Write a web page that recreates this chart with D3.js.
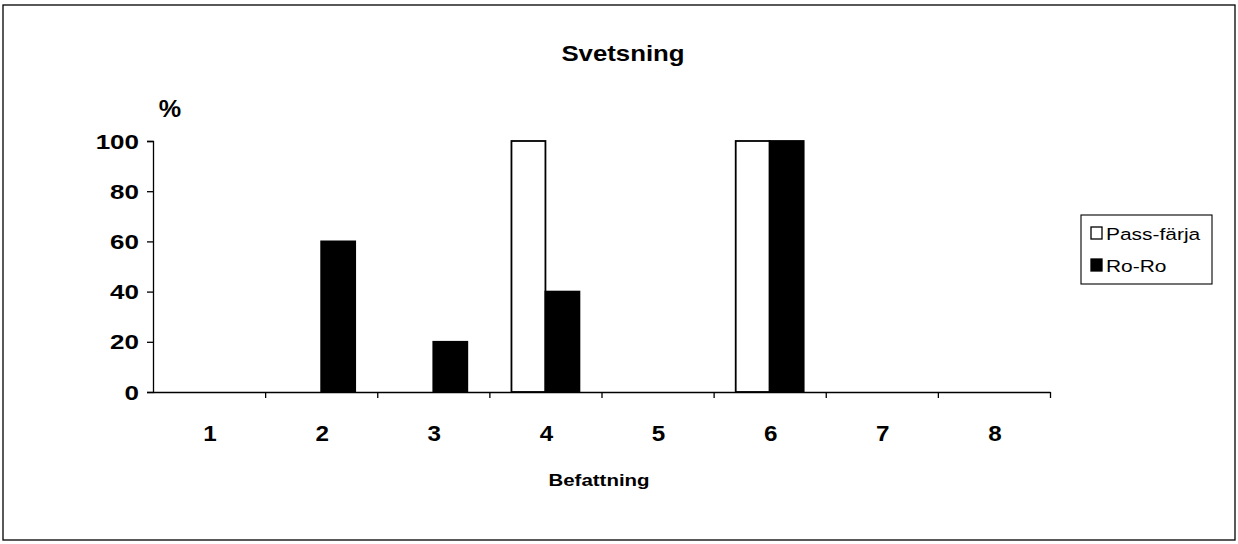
<!DOCTYPE html>
<html><head><meta charset="utf-8">
<script src="https://cdn.jsdelivr.net/npm/d3@7/dist/d3.min.js"></script>
<style>body{margin:0;background:#fff}svg{display:block}text{font-family:"Liberation Sans",Arial,sans-serif;fill:#000}</style>
</head><body>
<svg id="c" width="1238" height="544"></svg>
<script>
const categories = ["1","2","3","4","5","6","7","8"];
const seriesNames = ["Pass-färja","Ro-Ro"];
const passFarja = [0,0,0,100,0,100,0,0];
const roRo = [0,60,20,40,0,100,0,0];
const yTicks = [0,20,40,60,80,100];
const title = "Svetsning";
const xTitle = "Befattning";
const yTitle = "%";

(function(){
const svg = d3.select("#c");
const SX = 1.28; // horizontal stretch of the scanned text
function txt(g, x, y, s, opts){
  const gg = g.append("g").attr("transform", `translate(${x},${y}) scale(${opts.sx||SX},1)`);
  gg.append("text").attr("text-anchor", opts.anchor||"middle")
    .attr("dominant-baseline","alphabetic")
    .attr("font-size", opts.size).attr("font-weight", opts.weight||"bold").text(s);
  return gg;
}

svg.append("rect").attr("x",3).attr("y",5).attr("width",1232).attr("height",535)
  .attr("fill","none").attr("stroke","#000").attr("stroke-width",1.3);

const mL=153, mR=1050, mT=141, mB=392;
const x = d3.scaleBand().domain(categories).range([mL,mR]).paddingInner(0).paddingOuter(0);
const xs = d3.scaleBand().domain(seriesNames).range([0,x.bandwidth()]).paddingInner(0).paddingOuter(0.65);
const y = d3.scaleLinear().domain([0,100]).range([mB,mT]);

const data = [passFarja, roRo];
const fills = ["#fff","#000"];
data.forEach((vals,si)=>{
  svg.append("g").selectAll("rect").data(vals.map((v,i)=>({c:categories[i],v})).filter(d=>d.v>0))
    .join("rect")
    .attr("x",d=>x(d.c)+xs(seriesNames[si]))
    .attr("y",d=>y(d.v))
    .attr("width",xs.bandwidth())
    .attr("height",d=>y(0)-y(d.v))
    .attr("fill",fills[si]).attr("stroke","#000").attr("stroke-width",1.8);
});

// y axis
const ya = svg.append("g").attr("transform",`translate(${mL},0)`)
  .call(d3.axisLeft(y).tickValues(yTicks).tickSize(6).tickFormat(""));
ya.selectAll("path,line").attr("stroke","#000").attr("stroke-width",1.3);
yTicks.forEach(t=>txt(svg,139,y(t)+7.5,String(t),{size:20,anchor:"end",sx:1.3}));

// x axis with ticks at category boundaries
const xb = d3.scaleLinear().domain([0,categories.length]).range([mL,mR]);
const xa = svg.append("g").attr("transform",`translate(0,${mB})`)
  .call(d3.axisBottom(xb).tickValues(d3.range(1,categories.length+1)).tickSize(6).tickSizeOuter(0).tickFormat(""));
xa.selectAll("path,line").attr("stroke","#000").attr("stroke-width",1.3);
categories.forEach(c=>txt(svg,x(c)+x.bandwidth()/2+1,441,c,{size:22,sx:1.1}));

// titles
txt(svg,623,61,title,{size:21.5,sx:1.2});
txt(svg,170,117,yTitle,{size:24,sx:1.05});
txt(svg,599,486,xTitle,{size:16.5,sx:1.24});

// legend
const lg = svg.append("g");
lg.append("rect").attr("x",1081).attr("y",215).attr("width",131).attr("height",69)
  .attr("fill","#fff").attr("stroke","#000").attr("stroke-width",1.1);
seriesNames.forEach((n,i)=>{
  const yy = 227 + i*32;
  lg.append("rect").attr("x",1091).attr("y",yy).attr("width",11).attr("height",12)
    .attr("fill",fills[i]).attr("stroke","#000").attr("stroke-width",1.3);
  txt(lg,1106,yy+12.5,n,{size:16.5,weight:"normal",anchor:"start",sx:1.27});
});
})();
</script>
</body></html>
